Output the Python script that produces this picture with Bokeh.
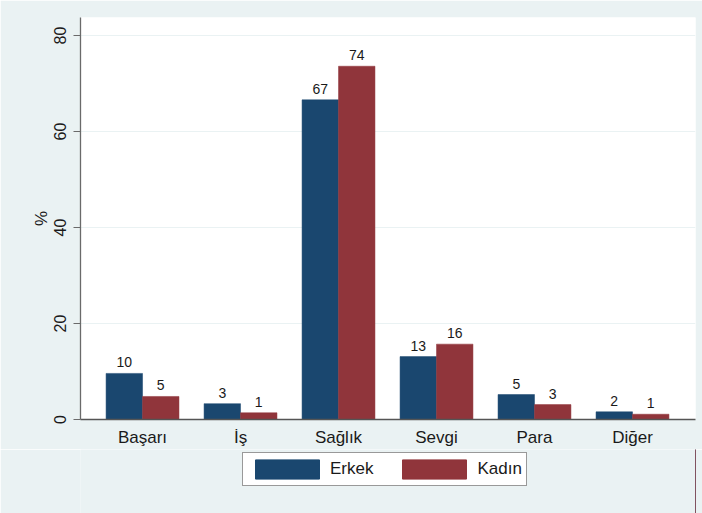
from bokeh.plotting import figure
from bokeh.layouts import column
from bokeh.models import Range1d, ColumnDataSource, Legend, LegendItem, FixedTicker
from bokeh.embed import file_html
from bokeh.resources import INLINE
from bokeh.core.properties import value

categories = ["Başarı", "İş", "Sağlık", "Sevgi", "Para", "Diğer"]
erkek = [9.6, 3.3, 66.6, 13.1, 5.2, 1.6]
kadin = [4.8, 1.4, 73.6, 15.7, 3.1, 1.1]
series_names = ["Erkek", "Kadın"]
y_ticks = [0, 20, 40, 60, 80]

NAVY = "#1a476f"
MAROON = "#90353b"
BG = "#eaf2f3"
FONT = "Liberation Sans"

idx = list(range(len(categories)))
bar_w = 0.372
off = bar_w / 2

src_e = ColumnDataSource(dict(x=[i - off for i in idx], top=erkek,
                              lab=[f"{v:.0f}" for v in erkek]))
src_k = ColumnDataSource(dict(x=[i + off for i in idx], top=kadin,
                              lab=[f"{v:.0f}" for v in kadin]))

p = figure(frame_width=615, frame_height=402, output_backend="svg",
           toolbar_location=None,
           x_range=Range1d(-0.633, 5.643), y_range=Range1d(0, 83.75),
           min_border_left=80, min_border_right=7, min_border_top=17,
           min_border_bottom=30)
p.border_fill_color = BG
p.background_fill_color = "white"
p.outline_line_color = None

r_e = p.vbar(x="x", top="top", width=bar_w, source=src_e, fill_color=NAVY,
             line_color=NAVY, line_width=0.5)
r_k = p.vbar(x="x", top="top", width=bar_w, source=src_k, fill_color=MAROON,
             line_color=MAROON, line_width=0.5)

for s in (src_e, src_k):
    p.text(x="x", y="top", text="lab", source=s, text_align="center",
           text_baseline="bottom", y_offset=-6, text_font_size="14px",
           text_font=value(FONT), text_color="#1a1a1a")

# grid
p.xgrid.grid_line_color = None
p.ygrid.grid_line_color = BG
p.ygrid.grid_line_width = 1.2
p.ygrid.ticker = FixedTicker(ticks=y_ticks)

# y axis
ya = p.yaxis[0]
ya.ticker = FixedTicker(ticks=y_ticks)
ya.axis_label = "%"
ya.axis_label_text_font = FONT
ya.axis_label_text_font_size = "17px"
ya.axis_label_text_font_style = "normal"
ya.axis_label_text_color = "#1a1a1a"
ya.axis_label_standoff = 0
ya.major_label_orientation = "vertical"
ya.major_label_text_font = FONT
ya.major_label_text_font_size = "16px"
ya.major_label_text_color = "#1a1a1a"
ya.major_label_standoff = 8
ya.major_tick_out = 7
ya.major_tick_in = 0
ya.minor_tick_out = 0
ya.minor_tick_in = 0
ya.axis_line_color = "#6a6a6a"
ya.axis_line_width = 1.3
ya.major_tick_line_color = "#6a6a6a"

# x axis
xa = p.xaxis[0]
xa.ticker = FixedTicker(ticks=idx)
xa.major_label_overrides = {i: c for i, c in zip(idx, categories)}
xa.major_label_text_font = FONT
xa.major_label_text_font_size = "17px"
xa.major_label_text_color = "#1a1a1a"
xa.major_label_standoff = 8
xa.major_tick_out = 0
xa.major_tick_in = 0
xa.minor_tick_out = 0
xa.minor_tick_in = 0
xa.axis_line_color = "#555555"
xa.axis_line_width = 1.3

# legend strip below the chart (same background), holding the key
p2 = figure(width=702, height=64, output_backend="svg", toolbar_location=None,
            x_range=Range1d(0, 1), y_range=Range1d(0, 1),
            x_axis_type=None, y_axis_type=None,
            min_border_left=0, min_border_right=0, min_border_top=0,
            min_border_bottom=0)
p2.border_fill_color = BG
p2.background_fill_color = BG
p2.outline_line_color = None
p2.grid.visible = False
# key renderers: one sample each, placed outside the strip's visible range
k_e = p2.vbar(x=[5], top=[1], width=0.1, fill_color=NAVY, line_color=NAVY)
k_k = p2.vbar(x=[5], top=[1], width=0.1, fill_color=MAROON, line_color=MAROON)

legend = Legend(items=[LegendItem(label=series_names[0], renderers=[k_e]),
                       LegendItem(label=series_names[1], renderers=[k_k])],
                orientation="horizontal", location=(162, 27))
legend.background_fill_color = "white"
legend.background_fill_alpha = 1
legend.border_line_color = "#333333"
legend.border_line_width = 1
legend.glyph_width = 80
legend.glyph_height = 24
legend.label_height = 24
legend.label_standoff = 3
legend.spacing = 21
legend.padding = 4
legend.margin = 0
legend.label_text_font = FONT
legend.label_text_font_size = "17px"
legend.label_text_color = "#1a1a1a"
p2.add_layout(legend, "center")

layout = column(p, p2, spacing=0)
open("out.html", "w").write(file_html(layout, INLINE))
